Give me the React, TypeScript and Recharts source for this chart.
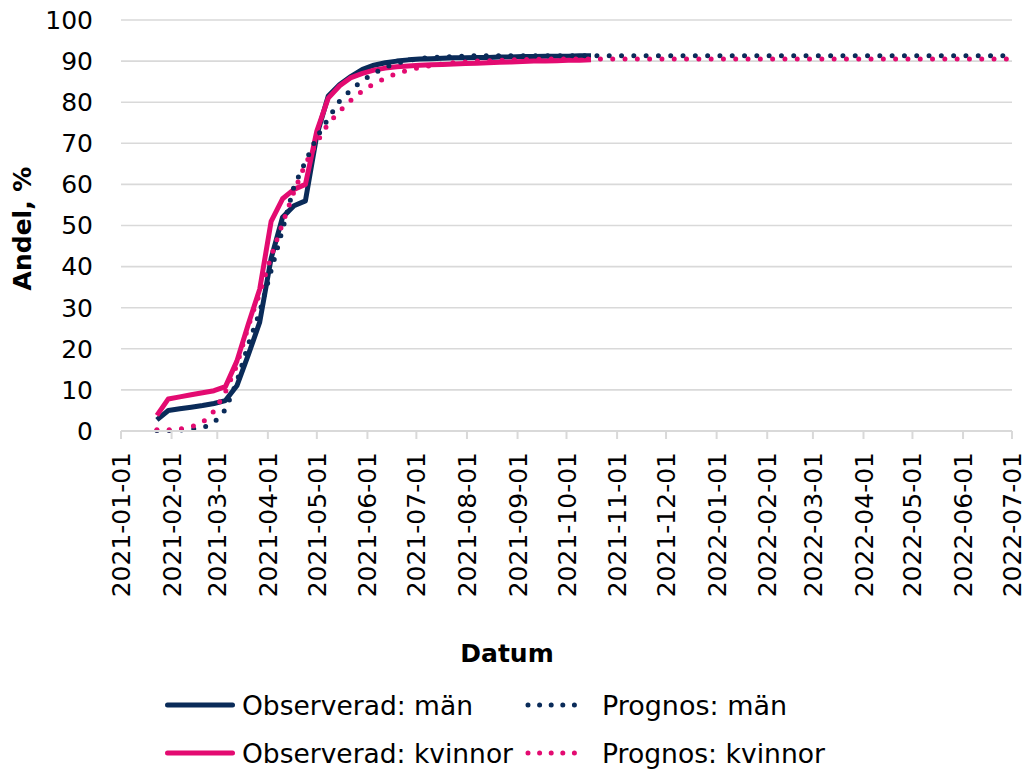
import React from "react";
import { LineChart, Line, XAxis, YAxis, CartesianGrid } from "recharts";

const NAVY = "#0A2B59";
const PINK = "#E30B71";
const GRID = "#D9D9D9";
const FONT = "'DejaVu Sans', Verdana, sans-serif";

// x axis: one tick per month
const monthTicks = [
  "2021-01-01", "2021-02-01", "2021-03-01", "2021-04-01", "2021-05-01",
  "2021-06-01", "2021-07-01", "2021-08-01", "2021-09-01", "2021-10-01",
  "2021-11-01", "2021-12-01", "2022-01-01", "2022-02-01", "2022-03-01",
  "2022-04-01", "2022-05-01", "2022-06-01", "2022-07-01",
];
const yTicks = [0, 10, 20, 30, 40, 50, 60, 70, 80, 90, 100];

// weekly reporting dates start on this day
const firstWeek = "2021-01-23";
const forecastEnd = "2022-07-01";

// observed share, weekly
const observedMen = [
  2.7, 5.0, 5.4, 5.8, 6.2, 6.7, 7.4, 11, 18.5, 26.5,
  42, 52, 54.8, 56, 72, 81.5, 84.3, 86.3, 88, 89,
  89.6, 90, 90.3, 90.5, 90.6, 90.7, 90.8, 90.8, 90.9, 90.9,
  91.0, 91.0, 91.1, 91.1, 91.2, 91.2, 91.2, 91.3, 91.3,
];
const observedWomen = [
  3.8, 7.8, 8.3, 8.8, 9.3, 9.8, 10.8, 17, 26, 34.5,
  51, 56.5, 58.8, 60, 73, 81, 84, 86, 87, 87.8,
  88.3, 88.6, 88.8, 89.0, 89.1, 89.2, 89.3, 89.4, 89.5, 89.6,
  89.7, 89.8, 89.9, 90.0, 90.0, 90.1, 90.2, 90.2, 90.3,
];

// forecast share, weekly, last value at the end of the axis
const forecastMen = [
  0.1, 0.1, 0.2, 0.4, 0.8, 2.0, 5.2, 12, 21, 29,
  39, 49, 59.5, 65.5, 71.5, 76, 80.3, 83, 85.3, 87,
  88.5, 89.5, 90.2, 90.6, 90.9, 91.0, 91.1, 91.2,
  91.3, 91.3, 91.3, 91.3, 91.3, 91.3, 91.3, 91.3, 91.3, 91.3, 91.3, 91.3,
  91.3, 91.3, 91.3, 91.3, 91.3, 91.3, 91.3, 91.3, 91.3, 91.3, 91.3, 91.3,
  91.3, 91.3, 91.3, 91.3, 91.3, 91.3, 91.3, 91.3, 91.3, 91.3, 91.3, 91.3,
  91.3, 91.3, 91.3, 91.3, 91.3, 91.3, 91.3, 91.3, 91.3, 91.3, 91.3, 91.3,
];
const forecastWomen = [
  0.3, 0.3, 0.5, 1.0, 2.1, 4.8, 9.5, 16, 25.5, 33.5,
  42.5, 50.5, 58.2, 65, 70.2, 74.8, 77.8, 80.5, 82.8, 84.5,
  85.8, 87, 87.8, 88.4, 88.9, 89.3, 89.6, 89.8, 90.0, 90.1,
  90.2, 90.3, 90.4, 90.4, 90.5,
  90.5, 90.5, 90.5, 90.5, 90.5, 90.5, 90.5, 90.5, 90.5, 90.5, 90.5, 90.5,
  90.5, 90.5, 90.5, 90.5, 90.5, 90.5, 90.5, 90.5, 90.5, 90.5, 90.5, 90.5,
  90.5, 90.5, 90.5, 90.5, 90.5, 90.5, 90.5, 90.5, 90.5, 90.5, 90.5, 90.5,
  90.5, 90.5, 90.5, 90.5, 90.5,
];

const DAY = 86400000;
const toTime = (iso: string) => Date.parse(iso);
const fmtDate = (t: number) => new Date(t).toISOString().slice(0, 10);
const weekTime = (i: number) => toTime(firstWeek) + i * 7 * DAY;

const observedData = observedMen.map((v, i) => ({
  t: weekTime(i),
  men: v,
  women: observedWomen[i],
}));
const forecastData = forecastMen.map((v, i) => ({
  t: i === forecastMen.length - 1 ? toTime(forecastEnd) : weekTime(i),
  men: v,
  women: forecastWomen[i],
}));

const tickTimes = monthTicks.map(toTime);

const series = [
  { name: "Observerad: män", color: NAVY, dotted: false, textWidth: 231 },
  { name: "Prognos: män", color: NAVY, dotted: true, textWidth: 185 },
  { name: "Observerad: kvinnor", color: PINK, dotted: false, textWidth: 271 },
  { name: "Prognos: kvinnor", color: PINK, dotted: true, textWidth: 223 },
];

const DateTick = ({ x, y, payload }: any) => (
  <text
    x={x}
    y={y}
    transform={`rotate(-90, ${x}, ${y})`}
    textAnchor="end"
    dy="0.36em"
    fontSize={25}
    fontFamily={FONT}
    fill="#000"
  >
    {fmtDate(payload.value)}
  </text>
);

// two-column legend under the axis title
const ChartLegend = () => (
  <svg
    width={1027}
    height={110}
    style={{ position: "absolute", left: 0, top: 662 }}
  >
    {series.map((s, i) => {
      const col = i % 2;
      const row = Math.floor(i / 2);
      const lineY = 43 + row * 48;
      const x1 = col === 0 ? 167.5 : 528;
      const x2 = col === 0 ? 232.5 : 586;
      const textX = col === 0 ? 242 : 602;
      return (
        <g key={s.name}>
          <line
            x1={x1}
            x2={x2}
            y1={lineY}
            y2={lineY}
            stroke={s.color}
            strokeWidth={5}
            strokeLinecap="round"
            strokeDasharray={s.dotted ? "0 11.6" : undefined}
          />
          <text
            x={textX}
            y={lineY + 10}
            fontSize={26.5}
            fontFamily={FONT}
            fill="#000"
            textLength={s.textWidth}
            lengthAdjust="spacingAndGlyphs"
          >
            {s.name}
          </text>
        </g>
      );
    })}
  </svg>
);

export default function App() {
  return (
    <div style={{ position: "relative", width: 1027, height: 772, background: "#fff" }}>
      <style>{"body { margin: 0; }"}</style>
      <LineChart
        width={1027}
        height={772}
        margin={{ top: 20, right: 15, bottom: 101, left: 0 }}
      >
        <CartesianGrid horizontal vertical={false} stroke={GRID} strokeWidth={1.6} />
        <XAxis
          dataKey="t"
          type="number"
          scale="time"
          domain={[tickTimes[0], tickTimes[tickTimes.length - 1]]}
          ticks={tickTimes}
          interval={0}
          allowDataOverflow
          height={240}
          tickSize={8}
          tickMargin={13}
          tick={<DateTick />}
          stroke={GRID}
          strokeWidth={2}
          label={{
            content: () => (
              <text
                x={507}
                y={662}
                textAnchor="middle"
                fontSize={25}
                fontWeight="bold"
                fontFamily={FONT}
                fill="#000"
              >
                Datum
              </text>
            ),
          }}
        />
        <YAxis
          type="number"
          domain={[0, 100]}
          ticks={yTicks}
          interval={0}
          width={121}
          axisLine={false}
          tickLine={false}
          tickSize={20}
          tickMargin={8}
          tick={{ fontSize: 25, fontFamily: FONT, fill: "#000" }}
          label={{
            content: ({ viewBox }: any) => {
              const cx = 22;
              const cy = viewBox.y + viewBox.height / 2 + 3;
              return (
                <text
                  x={cx}
                  y={cy}
                  transform={`rotate(-90, ${cx}, ${cy})`}
                  textAnchor="middle"
                  dy="0.36em"
                  fontSize={25}
                  fontWeight="bold"
                  fontFamily={FONT}
                  fill="#000"
                >
                  Andel, %
                </text>
              );
            },
          }}
        />
        <Line
          data={observedData}
          dataKey="men"
          name="Observerad: män"
          type="linear"
          stroke={NAVY}
          strokeWidth={5}
          strokeLinejoin="round"
          dot={false}
          isAnimationActive={false}
        />
        <Line
          data={observedData}
          dataKey="women"
          name="Observerad: kvinnor"
          type="linear"
          stroke={PINK}
          strokeWidth={5}
          strokeLinejoin="round"
          dot={false}
          isAnimationActive={false}
        />
        <Line
          data={forecastData}
          dataKey="men"
          name="Prognos: män"
          type="linear"
          stroke={NAVY}
          strokeWidth={5}
          strokeLinecap="round"
          strokeDasharray="0 12.3"
          dot={false}
          isAnimationActive={false}
        />
        <Line
          data={forecastData}
          dataKey="women"
          name="Prognos: kvinnor"
          type="linear"
          stroke={PINK}
          strokeWidth={5}
          strokeLinecap="round"
          strokeDasharray="0 12.3"
          dot={false}
          isAnimationActive={false}
        />
      </LineChart>
      <ChartLegend />
    </div>
  );
}
